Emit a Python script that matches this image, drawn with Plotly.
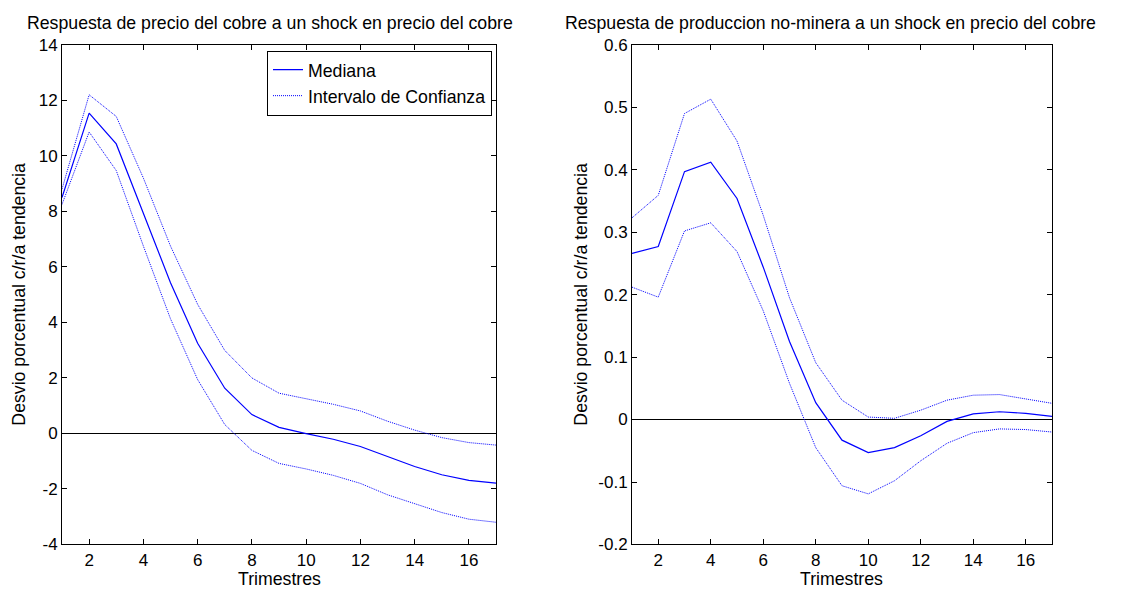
import plotly.graph_objects as go

# ---- data ----
trimestres = list(range(1, 18))

cobre_mediana = [8.5, 11.54, 10.43, 7.94, 5.43, 3.25, 1.63, 0.68, 0.22, -0.01,
                 -0.21, -0.47, -0.82, -1.19, -1.49, -1.69, -1.79]
cobre_sup = [8.8, 12.2, 11.42, 9.2, 6.75, 4.65, 2.99, 2.0, 1.45, 1.24,
             1.05, 0.81, 0.44, 0.12, -0.15, -0.33, -0.42]
cobre_inf = [8.25, 10.86, 9.47, 6.75, 4.13, 1.94, 0.32, -0.61, -1.08, -1.28,
             -1.51, -1.8, -2.21, -2.54, -2.85, -3.09, -3.2]

prod_mediana = [0.266, 0.277, 0.397, 0.412, 0.354, 0.244, 0.125, 0.027, -0.033, -0.053,
                -0.045, -0.026, -0.003, 0.009, 0.0125, 0.010, 0.005]
prod_sup = [0.323, 0.359, 0.490, 0.513, 0.446, 0.327, 0.195, 0.091, 0.031, 0.004,
            0.002, 0.015, 0.031, 0.039, 0.040, 0.033, 0.026]
prod_inf = [0.212, 0.196, 0.302, 0.315, 0.269, 0.174, 0.058, -0.045, -0.106, -0.119,
            -0.098, -0.066, -0.038, -0.021, -0.015, -0.016, -0.020]

x_ticks = [2, 4, 6, 8, 10, 12, 14, 16]
left_yticks = [-4, -2, 0, 2, 4, 6, 8, 10, 12, 14]
left_yticklabels = ["-4", "-2", "0", "2", "4", "6", "8", "10", "12", "14"]
right_yticks = [-0.2, -0.1, 0, 0.1, 0.2, 0.3, 0.4, 0.5, 0.6]
right_yticklabels = ["-0.2", "-0.1", "0", "0.1", "0.2", "0.3", "0.4", "0.5", "0.6"]

title_left = "Respuesta de precio del cobre a un shock en precio del cobre"
title_right = "Respuesta de produccion no-minera a un shock en precio del cobre"
ylabel = "Desvio porcentual c/r/a tendencia"
xlabel = "Trimestres"

# ---- styling ----
W, H = 1138, 599
FONT = "Liberation Sans, Arial, Helvetica, sans-serif"
FS = 17.7
FS_TICK = 17
BLUE = "#0000ff"

fig = go.Figure()

def add_panel(xa, ya, med, sup, inf, legend):
    fig.add_trace(go.Scatter(x=trimestres, y=med, mode="lines", name="Mediana",
                             line=dict(color=BLUE, width=1.2), xaxis=xa, yaxis=ya,
                             showlegend=legend))
    fig.add_trace(go.Scatter(x=trimestres, y=sup, mode="lines", name="Intervalo de Confianza",
                             line=dict(color=BLUE, width=1, dash="1px,1px"), xaxis=xa, yaxis=ya,
                             showlegend=legend, legendgroup="ic"))
    fig.add_trace(go.Scatter(x=trimestres, y=inf, mode="lines", name="Intervalo de Confianza",
                             line=dict(color=BLUE, width=1, dash="1px,1px"), xaxis=xa, yaxis=ya,
                             showlegend=False, legendgroup="ic"))

add_panel("x", "y", cobre_mediana, cobre_sup, cobre_inf, True)
add_panel("x2", "y2", prod_mediana, prod_sup, prod_inf, False)

common_axis = dict(showline=True, linecolor="black", linewidth=1, mirror="allticks",
                   ticks="inside", ticklen=5, tickcolor="black", tickwidth=1,
                   showgrid=False, tickfont=dict(family=FONT, size=FS_TICK, color="black"))

ydom = [(H - 553) / H, (H - 37) / H]
fig.update_layout(
    width=W, height=H,
    margin=dict(l=0, r=0, t=0, b=0),
    paper_bgcolor="white", plot_bgcolor="white",
    font=dict(family=FONT, size=FS, color="black"),
    xaxis=dict(domain=[62 / W, 496 / W], range=[1, 17], tickvals=x_ticks, anchor="y",
               zeroline=False, **common_axis),
    yaxis=dict(domain=ydom, range=[-4, 14], tickvals=left_yticks, ticktext=left_yticklabels,
               anchor="x", zeroline=True, zerolinecolor="black", zerolinewidth=1, **common_axis),
    xaxis2=dict(domain=[632 / W, 1052 / W], range=[1, 17], tickvals=x_ticks, anchor="y2",
                zeroline=False, **common_axis),
    yaxis2=dict(domain=ydom, range=[-0.2, 0.6], tickvals=right_yticks, ticktext=right_yticklabels,
                anchor="x2", zeroline=True, zerolinecolor="black", zerolinewidth=1, **common_axis),
    legend=dict(x=492 / W, y=1 - 43 / H, xanchor="right", yanchor="top",
                bordercolor="black", borderwidth=1, bgcolor="white",
                font=dict(family=FONT, size=FS, color="black"),
                tracegroupgap=0, itemwidth=30),
    showlegend=True,
)

ann = [
    dict(text=title_left, x=270 / W, y=1 - 14 / H),
    dict(text=title_right, x=830 / W, y=1 - 14 / H),
    dict(text=xlabel, x=279 / W, y=1 - 589 / H),
    dict(text=xlabel, x=841 / W, y=1 - 589 / H),
]
for a in ann:
    fig.add_annotation(xref="paper", yref="paper", xanchor="center", yanchor="middle",
                       showarrow=False, font=dict(family=FONT, size=FS, color="black"), **a)
for xc in (19, 581):
    fig.add_annotation(text=ylabel, xref="paper", yref="paper", x=xc / W, y=1 - 295 / H,
                       xanchor="center", yanchor="middle", textangle=-90, showarrow=False,
                       font=dict(family=FONT, size=FS, color="black"))

fig.write_html("out.html")
